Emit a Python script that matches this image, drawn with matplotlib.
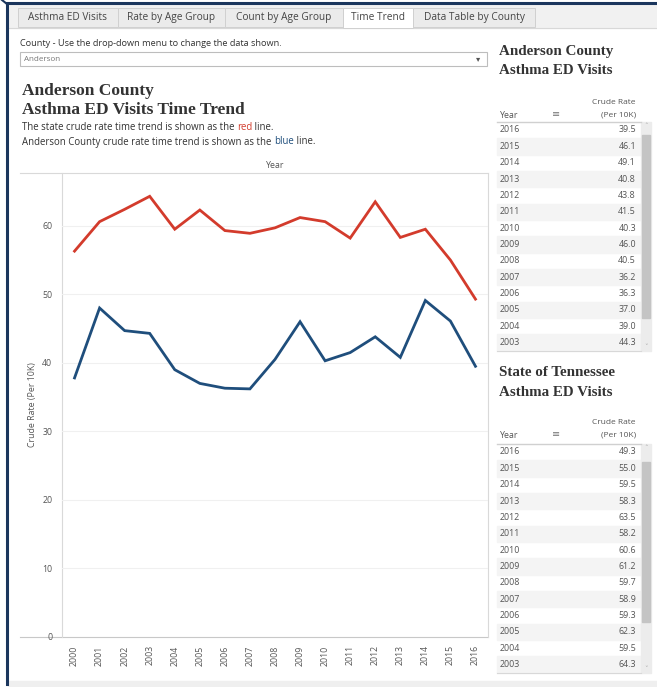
import matplotlib
matplotlib.use('Agg')
import matplotlib.pyplot as plt
from matplotlib.patches import Rectangle

# data
years = list(range(2000, 2017))
county_rate = [37.8, 48.0, 44.7, 44.3, 39.0, 37.0, 36.3, 36.2, 40.5, 46.0, 40.3, 41.5, 43.8, 40.8, 49.1, 46.1, 39.5]
state_rate = [56.3, 60.6, 62.4, 64.3, 59.5, 62.3, 59.3, 58.9, 59.7, 61.2, 60.6, 58.2, 63.5, 58.3, 59.5, 55.0, 49.3]
y_ticks = [0, 10, 20, 30, 40, 50, 60]
tabs = ['Asthma ED Visits', 'Rate by Age Group', 'Count by Age Group', 'Time Trend', 'Data Table by County']
county_name = 'Anderson'

RED = '#d33b2c'
BLUE = '#1f4e7c'
NAVY = '#1b365d'
GREY_TXT = '#555555'
SANS = ['Open Sans', 'DejaVu Sans']
SERIF = ['Liberation Serif', 'DejaVu Serif']

W, H = 657, 687
fig = plt.figure(figsize=(W / 100, H / 100), dpi=100)

# background canvas in pixel coords
bg = fig.add_axes([0, 0, 1, 1])
bg.set_xlim(0, W)
bg.set_ylim(H, 0)
bg.axis('off')

bg.add_patch(Rectangle((0, 0), W, H, color='white', zorder=0))
# navy frame
bg.plot([7, 7], [4, 684], color=NAVY, lw=2.2, zorder=5)
bg.plot([7, W], [3, 3], color=NAVY, lw=2.2, zorder=5)
bg.plot([2, 7], [0, 4], color=NAVY, lw=1.5, zorder=5)
# bottom grey strip
bg.add_patch(Rectangle((8, 681), W, 10, color='#efefef', zorder=1))

# tab bar
bg.add_patch(Rectangle((8, 5), W, 23, color='#f1f1f1', zorder=1))
bg.plot([8, W], [28, 28], color='#d8d8d8', lw=0.8, zorder=2)
tab_edges = [18, 118, 225, 343, 413, 535]
for i, name in enumerate(tabs):
    x0, x1 = tab_edges[i], tab_edges[i + 1]
    face = 'white' if name == 'Time Trend' else '#ebebeb'
    bg.add_patch(Rectangle((x0, 8), x1 - x0, 20 if name == 'Time Trend' else 19,
                           facecolor=face, edgecolor='#d0d0d0', lw=0.7, zorder=3))
    bg.text((x0 + x1) / 2, 17.5, name, ha='center', va='center', fontsize=7.3,
            color='#444444', family=SANS, zorder=4)

# county selector
bg.text(20, 43, 'County - Use the drop-down menu to change the data shown.', fontsize=6.6,
        color='#333333', family=SANS, va='center')
bg.add_patch(Rectangle((20, 52), 467, 14, facecolor='white', edgecolor='#bdbdbd', lw=0.8, zorder=2))
bg.text(24, 59.5, county_name, fontsize=5.8, color='#777777', family=SANS, va='center', zorder=3)
bg.text(478, 59.5, '\u25BE', fontsize=6, color='#555555', family=SANS, va='center', ha='center', zorder=3)

# chart title and notes
bg.text(22, 91, county_name + ' County', fontsize=12.5, fontweight='bold', color='#333333',
        family=SERIF, va='center')
bg.text(22, 110, 'Asthma ED Visits Time Trend', fontsize=12.5, fontweight='bold', color='#333333',
        family=SERIF, va='center')

fig.canvas.draw()
rend = fig.canvas.get_renderer()
inv = bg.transData.inverted()


def colored_line(y, parts):
    x = 22
    for txt, col in parts:
        t = bg.text(x, y, txt, fontsize=6.9, color=col, family=SANS, va='center')
        bb = t.get_window_extent(renderer=rend)
        x = inv.transform((bb.x1, bb.y0))[0]


colored_line(128, [('The state crude rate time trend is shown as the ', '#333333'), ('red', RED), (' line.', '#333333')])
colored_line(142, [(county_name + ' County crude rate time trend is shown as the ', '#333333'), ('blue', BLUE),
                   (' line.', '#333333')])

bg.text(275, 165, 'Year', fontsize=6.3, color=GREY_TXT, family=SANS, ha='center', va='center')

# chart frame lines
L, R, T, B = 62, 488, 173, 637
bg.plot([20, R], [T, T], color='#d9d9d9', lw=0.8, zorder=2)
bg.plot([20, R], [B, B], color='#c8c8c8', lw=0.8, zorder=2)
bg.plot([R, R], [T, B], color='#d9d9d9', lw=0.8, zorder=2)
bg.plot([L, L], [T, B], color='#d9d9d9', lw=0.8, zorder=2)
bg.text(33, 405, 'Crude Rate (Per 10K)', rotation=90, fontsize=6.3, color=GREY_TXT, family=SANS,
        ha='center', va='center')

# line chart
ax = fig.add_axes([L / W, (H - B) / H, (R - L) / W, (B - T) / H])
ax.patch.set_alpha(0)
ax.plot(range(len(years)), state_rate, color=RED, lw=2.0, solid_joinstyle='miter', zorder=3)
ax.plot(range(len(years)), county_rate, color=BLUE, lw=2.0, solid_joinstyle='miter', zorder=3)
ax.set_xlim(-0.5, len(years) - 0.5)
ax.set_ylim(0, 67.7)
ax.set_yticks(y_ticks)
ax.set_yticklabels([str(v) for v in y_ticks], fontsize=6.3, color=GREY_TXT, family=SANS)
ax.set_xticks(range(len(years)))
ax.set_xticklabels([str(y) for y in years], rotation=90, fontsize=6.3, color=GREY_TXT, family=SANS)
ax.tick_params(length=0, pad=6)
ax.tick_params(axis='y', pad=7)
for s in ax.spines.values():
    s.set_visible(False)
for v in y_ticks[1:]:
    ax.axhline(v, color='#f0f0f0', lw=0.8, zorder=1)


# side tables
def side_table(title_y, head_y, row_y0, thumb, title1, title2, values):
    bg.text(499, title_y, title1, fontsize=10.8, fontweight='bold', color='#333333', family=SERIF, va='center')
    bg.text(499, title_y + 19, title2, fontsize=10.8, fontweight='bold', color='#333333', family=SERIF, va='center')
    bg.text(636, head_y, 'Crude Rate', fontsize=6, color=GREY_TXT, family=SANS, ha='right', va='center')
    bg.text(636, head_y + 13, '(Per 10K)', fontsize=6, color=GREY_TXT, family=SANS, ha='right', va='center')
    bg.text(500, head_y + 13, 'Year', fontsize=6.3, color=GREY_TXT, family=SANS, va='center')
    bg.text(556, head_y + 13, '\u2261', fontsize=7, color='#777777', family=SANS, ha='center', va='center')
    step = 16.35
    bg.plot([497, 641], [row_y0 - 8.5, row_y0 - 8.5], color='#d0d0d0', lw=1.0, zorder=2)
    rows = list(zip(years[::-1], values[::-1]))[:14]
    for i, (yr, val) in enumerate(rows):
        yc = row_y0 + i * step
        if i % 2 == 1:
            bg.add_patch(Rectangle((497, yc - step / 2), 144, step, color='#f4f4f4', zorder=1))
        bg.text(500, yc, str(yr), fontsize=6.4, color=GREY_TXT, family=SANS, va='center')
        bg.text(636, yc, f'{val:.1f}', fontsize=6.4, color=GREY_TXT, family=SANS, ha='right', va='center')
    y_end = row_y0 + 13 * step + step / 2
    bg.plot([497, 641], [y_end, y_end], color='#d8d8d8', lw=0.8, zorder=2)
    # scrollbar
    bg.add_patch(Rectangle((641, row_y0 - 8), 10, y_end - row_y0 + 8, color='#ececec', zorder=1))
    bg.add_patch(Rectangle((642, thumb[0]), 8, thumb[1] - thumb[0], color='#c4c4c4', zorder=2))
    bg.text(646, row_y0 - 4, '\u02C4', fontsize=5, color='#aaaaaa', ha='center', va='center', family=SANS)
    bg.text(646, y_end - 3, '\u02C5', fontsize=5, color='#aaaaaa', ha='center', va='center', family=SANS)


side_table(52, 102, 130, (135, 318), county_name + ' County', 'Asthma ED Visits', county_rate)
side_table(373, 422, 452, (462, 622), 'State of Tennessee', 'Asthma ED Visits', state_rate)

fig.savefig('out.png', dpi=100)
